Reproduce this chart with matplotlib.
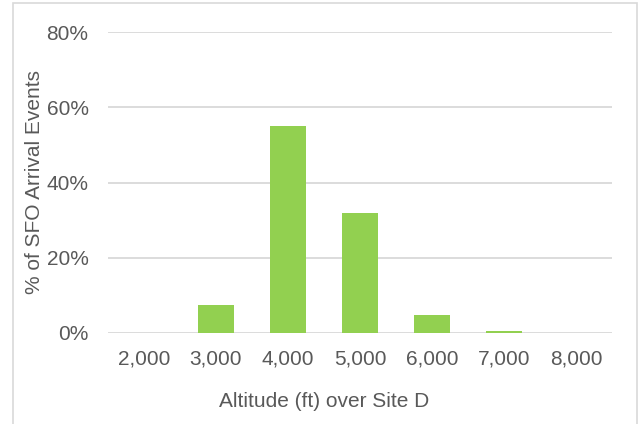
"""Altitude distribution of SFO arrivals over Site D."""

from matplotlib import pyplot as plt
from matplotlib.patches import Rectangle
from matplotlib.ticker import FuncFormatter

altitudes = ["2,000", "3,000", "4,000", "5,000", "6,000", "7,000", "8,000"]
share_pct = [0.0, 7.4, 55.0, 32.0, 4.8, 0.4, 0.0]
y_ticks = [0, 20, 40, 60, 80]

plt.rcParams["font.family"] = ["Liberation Sans", "DejaVu Sans"]
text_color = "#595959"
grid_color = "#d9d9d9"
bar_color = "#92d050"

figure = plt.figure(figsize=(6.4, 4.24), dpi=100)
width, height = 640, 424
axis = figure.add_axes([108 / width, 1 - 333 / height, 504 / width, 301 / height])

positions = list(range(len(altitudes)))
axis.bar(positions, share_pct, width=0.5, color=bar_color, zorder=3)

axis.set_xlim(-0.5, len(altitudes) - 0.5)
axis.set_ylim(0, 80)
axis.set_yticks(y_ticks)
axis.yaxis.set_major_formatter(FuncFormatter(lambda v, _: f"{v:.0f}%"))
axis.set_xticks(positions)
axis.set_xticklabels(altitudes)
axis.grid(axis="y", color=grid_color, linewidth=1.3, zorder=0)
axis.tick_params(length=0, labelsize=15, labelcolor=text_color)
axis.tick_params(axis="y", pad=14)
axis.tick_params(axis="x", pad=12)
for spine in axis.spines.values():
    spine.set_visible(False)

# the x title sits a little left of the plot centre in the original
axis.set_xlabel("Altitude (ft) over Site D", fontsize=15, color=text_color, labelpad=17)
axis.xaxis.label.set_x(216 / 504)
axis.set_ylabel("% of SFO Arrival Events", fontsize=15, color=text_color, labelpad=2)

# light chart-area border (open at the bottom, as cropped)
figure.patches.append(
    Rectangle(
        (13 / width, -0.05),
        624 / width,
        1.05 - 3 / height,
        transform=figure.transFigure,
        fill=False,
        edgecolor=grid_color,
        linewidth=1.2,
    )
)

figure.savefig("out.png", dpi=100)
